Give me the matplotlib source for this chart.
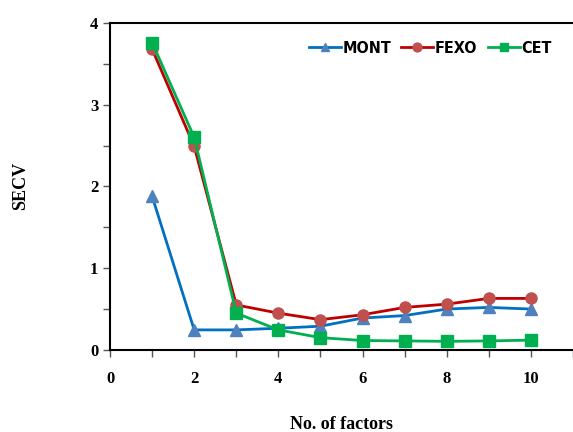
import numpy as np
import matplotlib.pyplot as plt
from matplotlib.ticker import MultipleLocator

factors = [1, 2, 3, 4, 5, 6, 7, 8, 9, 10]
mont = [1.88, 0.245, 0.245, 0.265, 0.29, 0.39, 0.42, 0.50, 0.52, 0.50]
fexo = [3.68, 2.49, 0.55, 0.45, 0.37, 0.43, 0.52, 0.56, 0.63, 0.63]
cet = [3.76, 2.60, 0.45, 0.245, 0.15, 0.115, 0.11, 0.105, 0.11, 0.12]

fig = plt.figure(figsize=(5.73, 4.32), dpi=100)
ax = fig.add_axes([0.192, 0.19, 0.808, 0.757])

ax.plot(factors, mont, color='#0070C0', lw=2, marker='^', ms=8,
        mfc='#4F81BD', mec='#4F81BD', label='MONT')
ax.plot(factors, fexo, color='#C00000', lw=2, marker='o', ms=8,
        mfc='#C0504D', mec='#C0504D', label='FEXO')
ax.plot(factors, cet, color='#00B050', lw=2, marker='s', ms=8,
        mfc='#00B050', mec='#00B050', label='CET')

ax.set_xlim(0, 11)
ax.set_ylim(0, 4)
ax.xaxis.set_major_locator(MultipleLocator(2))
ax.xaxis.set_minor_locator(MultipleLocator(1))
ax.yaxis.set_major_locator(MultipleLocator(1))
ax.yaxis.set_minor_locator(MultipleLocator(0.5))
ax.tick_params(which='both', direction='out', width=1, color='#555555', length=5)
ax.tick_params(axis='x', pad=10)
ax.spines['right'].set_visible(False)
for s in ['left', 'bottom', 'top']:
    ax.spines[s].set_linewidth(1.5)

for lab in ax.get_xticklabels() + ax.get_yticklabels():
    lab.set_fontfamily('Liberation Serif')
    lab.set_fontweight('bold')
    lab.set_fontsize(12)

ax.set_xlabel('No. of factors', family='Liberation Serif', fontweight='bold',
              fontsize=13, labelpad=21)
ax.set_ylabel('SECV', family='Liberation Serif', fontweight='bold',
              fontsize=13, labelpad=44)

leg = ax.legend(loc='upper right', ncol=3, frameon=False, handlelength=2.0,
                handletextpad=0.1, columnspacing=0.65, markerscale=0.8,
                bbox_to_anchor=(0.985, 0.99),
                prop={'family': 'DejaVu Sans', 'stretch': 'condensed',
                      'weight': 'bold', 'size': 11.5})

fig.savefig('out.png', dpi=100)
